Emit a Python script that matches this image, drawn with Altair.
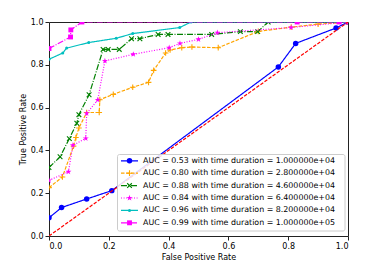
import altair as alt
import pandas as pd

# ---- data ----
auc = [0.53, 0.80, 0.88, 0.84, 0.96, 0.99]
durations = [1.0e4, 2.8e4, 4.6e4, 6.4e4, 8.2e4, 1.0e5]

fpr_1 = [0.0, 0.042, 0.126, 0.21, 0.767, 0.825, 0.96, 1.0]
tpr_1 = [0.085, 0.133, 0.173, 0.212, 0.79, 0.90, 0.972, 1.0]

fpr_2 = [0.0, 0.045, 0.082, 0.09, 0.10, 0.126, 0.168, 0.17, 0.215, 0.28, 0.333, 0.35, 0.39,
         0.405, 0.444, 0.478, 0.566, 0.70, 0.81, 0.90, 1.0]
tpr_2 = [0.226, 0.276, 0.42, 0.46, 0.505, 0.577, 0.577, 0.637, 0.662, 0.695, 0.718, 0.774, 0.855,
         0.869, 0.88, 0.883, 0.88, 0.956, 0.976, 0.99, 1.0]

fpr_3 = [0.0, 0.037, 0.068, 0.093, 0.10, 0.134, 0.181, 0.198, 0.235, 0.276, 0.304, 0.365,
         0.398, 0.544, 0.64, 0.698, 0.733, 1.0]
tpr_3 = [0.32, 0.37, 0.455, 0.527, 0.567, 0.66, 0.872, 0.872, 0.872, 0.922, 0.922, 0.942,
         0.942, 0.942, 0.955, 0.955, 1.0, 1.0]

fpr_4 = [0.0, 0.065, 0.08, 0.123, 0.126, 0.163, 0.187, 0.282, 0.402, 0.438, 0.50, 0.563, 0.81, 1.0]
tpr_4 = [0.26, 0.30, 0.424, 0.456, 0.573, 0.636, 0.818, 0.849, 0.88, 0.90, 0.919, 0.95, 0.974, 1.0]

fpr_5 = [0.0, 0.046, 0.059, 0.133, 0.225, 0.28, 0.437, 0.475, 1.0]
tpr_5 = [0.826, 0.855, 0.878, 0.904, 0.924, 0.946, 0.974, 1.0, 1.0]

fpr_6 = [0.0, 0.072, 0.073, 0.11, 0.83, 0.97, 1.0]
tpr_6 = [0.876, 0.93, 0.963, 1.0, 1.0, 1.0, 1.0]

diag_x = [0.0, 1.0]
diag_y = [0.0, 1.0]

tick_vals = [0.0, 0.2, 0.4, 0.6, 0.8, 1.0]

# ---- styles ----
FONT = "DejaVu Sans"
STAR = ("M0,-1L0.2245,-0.309L0.951,-0.309L0.363,0.118L0.588,0.809L0,0.382L-0.588,0.809"
        "L-0.363,0.118L-0.951,-0.309L-0.2245,-0.309Z")
PLUS = "M-1,0L1,0M0,-1L0,1"
XMARK = "M-1,-1L1,1M-1,1L1,-1"

series = [
    dict(fpr=fpr_1, tpr=tpr_1, color="#0000ff", dash=[1, 0], shape="circle", filled=True, size=30),
    dict(fpr=fpr_2, tpr=tpr_2, color="#ffa500", dash=[3.5, 1.5], shape=PLUS, filled=False, size=32),
    dict(fpr=fpr_3, tpr=tpr_3, color="#008000", dash=[6, 1.5, 1, 1.5], shape=XMARK, filled=False, size=22),
    dict(fpr=fpr_4, tpr=tpr_4, color="#ff00ff", dash=[1, 1.6], shape=STAR, filled=True, size=40),
    dict(fpr=fpr_5, tpr=tpr_5, color="#00bfbf", dash=[1, 0], shape="circle", filled=True, size=9),
    dict(fpr=fpr_6, tpr=tpr_6, color="#ff00ff", dash=[6, 1.5, 1, 1.5], shape="square", filled=True, size=24),
]

x_enc = alt.X("fpr:Q", scale=alt.Scale(domain=[0, 1], nice=False, zero=False),
              axis=alt.Axis(title="False Positive Rate", values=tick_vals, format=".1f"))
y_enc = alt.Y("tpr:Q", scale=alt.Scale(domain=[0, 1], nice=False, zero=False),
              axis=alt.Axis(title="True Positive Rate", values=tick_vals, format=".1f"))

layers = []
legend_layers = []

# legend box
box = alt.Chart(pd.DataFrame({"a": [0]})).mark_rect(
    fill="white", fillOpacity=0.85, stroke="#cccccc", strokeWidth=1, cornerRadius=2
).encode(x=alt.value(68.5), x2=alt.value(296), y=alt.value(132.5), y2=alt.value(209))
legend_layers.append(box)

row0 = 138.8
row_step = 12.4

for i, s in enumerate(series):
    df = pd.DataFrame({"fpr": s["fpr"], "tpr": s["tpr"], "i": list(range(len(s["fpr"])))})
    line = alt.Chart(df).mark_line(
        color=s["color"], strokeDash=s["dash"], strokeWidth=1.2, clip=True
    ).encode(x=x_enc, y=y_enc, order="i:Q")
    pts = alt.Chart(df).mark_point(
        shape=s["shape"], filled=s["filled"], color=s["color"], size=s["size"],
        opacity=1, strokeWidth=1.1, clip=True
    ).encode(x=x_enc, y=y_enc)
    layers += [line, pts]

    label = f"AUC = {auc[i]:.2f} with time duration = {durations[i]:e}"
    ldf = pd.DataFrame({"label": [label]})
    yv = row0 + i * row_step
    lline = alt.Chart(ldf).mark_rule(
        color=s["color"], strokeDash=s["dash"], strokeWidth=1.2
    ).encode(x=alt.value(72), x2=alt.value(89), y=alt.value(yv))
    lpt = alt.Chart(ldf).mark_point(
        shape=s["shape"], filled=s["filled"], color=s["color"], size=s["size"],
        opacity=1, strokeWidth=1.1
    ).encode(x=alt.value(80.5), y=alt.value(yv))
    ltxt = alt.Chart(ldf).mark_text(
        align="left", baseline="middle", font=FONT, fontSize=7.9, color="#000000"
    ).encode(x=alt.value(94), y=alt.value(yv), text="label:N")
    legend_layers += [lline, lpt, ltxt]

diag_df = pd.DataFrame({"fpr": diag_x, "tpr": diag_y})
diag = alt.Chart(diag_df).mark_line(
    color="#ff0000", strokeDash=[3.5, 1.5], strokeWidth=1.2, clip=True
).encode(x=x_enc, y=y_enc)
layers.append(diag)

chart = alt.layer(*layers, *legend_layers).properties(
    width=299, height=214,
    autosize=alt.AutoSizeParams(type="none"),
    padding={"left": 41, "top": 14, "right": 18, "bottom": 36},
).configure_view(
    stroke="#222222", strokeWidth=1
).configure_axis(
    grid=False, domain=False, tickColor="#222222", tickSize=4, tickWidth=1,
    labelFont=FONT, titleFont=FONT, labelFontSize=8, titleFontSize=8,
    labelColor="#000000", titleColor="#000000", titleFontWeight="normal",
    labelPadding=2, titlePadding=3
)

chart.save("out.html", embed_options={"renderer": "svg", "actions": False})
